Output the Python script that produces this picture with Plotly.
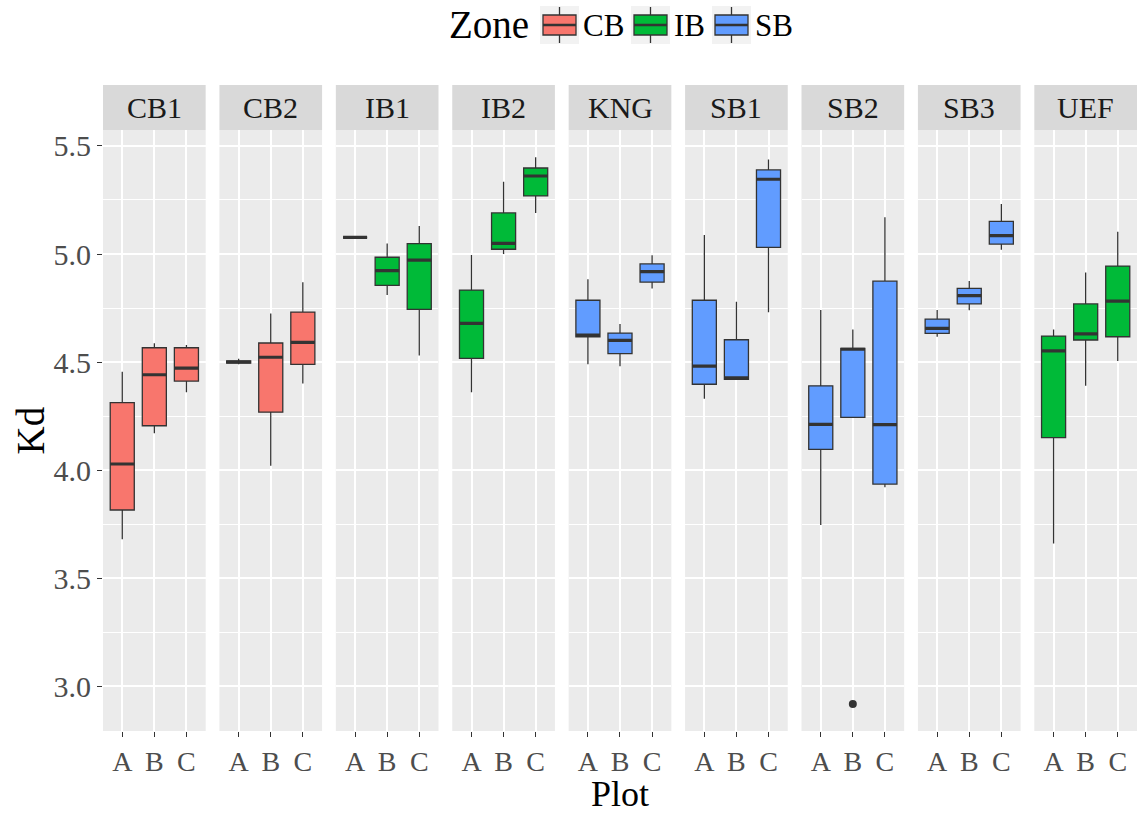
import plotly.graph_objects as go
from plotly.subplots import make_subplots

# Facets (sites), their zone, and the plots within each site
sites = ["CB1", "CB2", "IB1", "IB2", "KNG", "SB1", "SB2", "SB3", "UEF"]
site_zone = ["CB", "CB", "IB", "IB", "SB", "SB", "SB", "SB", "IB"]
plots = ["A", "B", "C"]
zones = ["CB", "IB", "SB"]

# Box statistics of Kd per site, ordered A, B, C
kd_low = {
    "CB1": [3.68, 4.17, 4.36], "CB2": [4.49, 4.02, 4.40], "IB1": [5.077, 4.81, 4.53],
    "IB2": [4.36, 5.00, 5.19], "KNG": [4.49, 4.48, 4.84], "SB1": [4.33, 4.42, 4.73],
    "SB2": [3.745, 4.244, 3.92], "SB3": [4.617, 4.74, 5.02], "UEF": [3.66, 4.39, 4.505],
}
kd_q1 = {
    "CB1": [3.815, 4.205, 4.412], "CB2": [4.495, 4.268, 4.489], "IB1": [5.077, 4.855, 4.744],
    "IB2": [4.517, 5.022, 5.269], "KNG": [4.617, 4.539, 4.870], "SB1": [4.397, 4.420, 5.031],
    "SB2": [4.096, 4.244, 3.935], "SB3": [4.633, 4.769, 5.046], "UEF": [4.150, 4.602, 4.617],
}
kd_median = {
    "CB1": [4.028, 4.441, 4.472], "CB2": [4.500, 4.522, 4.591], "IB1": [5.077, 4.923, 4.972],
    "IB2": [4.679, 5.049, 5.361], "KNG": [4.625, 4.600, 4.918], "SB1": [4.481, 4.427, 5.346],
    "SB2": [4.211, 4.559, 4.210], "SB3": [4.656, 4.807, 5.085], "UEF": [4.552, 4.630, 4.782],
}
kd_q3 = {
    "CB1": [4.312, 4.566, 4.566], "CB2": [4.505, 4.588, 4.731], "IB1": [5.077, 4.985, 5.048],
    "IB2": [4.833, 5.190, 5.398], "KNG": [4.786, 4.634, 4.954], "SB1": [4.786, 4.603, 5.389],
    "SB2": [4.390, 4.563, 4.874], "SB3": [4.699, 4.841, 5.151], "UEF": [4.620, 4.769, 4.944],
}
kd_high = {
    "CB1": [4.455, 4.587, 4.579], "CB2": [4.515, 4.725, 4.869], "IB1": [5.077, 5.049, 5.130],
    "IB2": [4.995, 5.335, 5.448], "KNG": [4.883, 4.676, 4.994], "SB1": [5.088, 4.779, 5.438],
    "SB2": [4.741, 4.651, 5.170], "SB3": [4.741, 4.875, 5.231], "UEF": [4.651, 4.914, 5.103],
}
# Outlying observations: (site, plot, value)
outliers = [("SB2", "B", 2.917)]

y_ticks = [3.0, 3.5, 4.0, 4.5, 5.0, 5.5]

zone_colors = {"CB": "#F8766D", "IB": "#00BA38", "SB": "#619CFF"}
FONT = "Liberation Serif"
EDGE = "#333333"
BOX_W = 0.75

# figure geometry in pixels
W, H = 1137, 815
ML, MR, MT, MB = 103, 0, 130, 84
PW, PH = W - ML - MR, H - MT - MB


def px_x(px):
    return (px - ML) / PW


def px_y(py):
    return (H - MB - py) / PH


n = len(sites)
fig = make_subplots(rows=1, cols=n, shared_yaxes=True, horizontal_spacing=0.0133)

pos = list(range(1, len(plots) + 1))
for i, site in enumerate(sites):
    col = i + 1
    zone = site_zone[i]
    fig.add_trace(
        go.Box(
            x=pos,
            q1=kd_q1[site], median=kd_median[site], q3=kd_q3[site],
            lowerfence=kd_low[site], upperfence=kd_high[site],
            width=BOX_W, whiskerwidth=0,
            fillcolor=zone_colors[zone],
            line=dict(color=EDGE, width=1.3),
            marker=dict(color=EDGE),
            name=zone, showlegend=False,
            boxpoints=False, hoverinfo="skip",
        ),
        row=1, col=col,
    )
    # thicker median bars, as in ggplot boxplots
    mx, my = [], []
    for p, m in zip(pos, kd_median[site]):
        mx += [p - BOX_W / 2, p + BOX_W / 2, None]
        my += [m, m, None]
    fig.add_trace(
        go.Scatter(x=mx, y=my, mode="lines", line=dict(color=EDGE, width=3.2),
                   showlegend=False, hoverinfo="skip"),
        row=1, col=col,
    )
    # outliers
    ox = [pos[plots.index(p)] for s, p, v in outliers if s == site]
    oy = [v for s, p, v in outliers if s == site]
    if ox:
        fig.add_trace(
            go.Scatter(x=ox, y=oy, mode="markers", marker=dict(color=EDGE, size=8),
                       showlegend=False, hoverinfo="skip"),
            row=1, col=col,
        )

    # facet strip
    xd = "x domain" if col == 1 else f"x{col} domain"
    yd = "y domain" if col == 1 else f"y{col} domain"
    strip_h = 45 / PH
    fig.add_shape(type="rect", xref=xd, yref=yd, x0=0, x1=1, y0=1, y1=1 + strip_h,
                  fillcolor="#D9D9D9", line=dict(width=0), layer="below")
    fig.add_annotation(xref=xd, yref=yd, x=0.5, y=1 + strip_h / 2, text=site,
                       showarrow=False, font=dict(family=FONT, size=30, color="#1A1A1A"),
                       xanchor="center", yanchor="middle")

fig.update_xaxes(
    range=[0.4, 3.6], tickmode="array", tickvals=pos, ticktext=plots,
    showgrid=True, gridcolor="white", gridwidth=2, zeroline=False,
    ticks="outside", ticklen=5, tickwidth=1.3, tickcolor=EDGE,
    tickfont=dict(family=FONT, size=28, color="#4D4D4D"), showline=False,
)
fig.update_yaxes(
    range=[2.792, 5.574], tickmode="array", tickvals=y_ticks,
    ticktext=[f"{v:.1f}" for v in y_ticks],
    showgrid=True, gridcolor="white", gridwidth=2, zeroline=False,
    minor=dict(tickmode="array", tickvals=[2.75, 3.25, 3.75, 4.25, 4.75, 5.25],
               showgrid=True, gridcolor="white", gridwidth=1, ticks=""),
    tickfont=dict(family=FONT, size=30, color="#4D4D4D"), showline=False,
)
fig.update_yaxes(ticks="outside", ticklen=5, tickwidth=1.3, tickcolor=EDGE, row=1, col=1)

# axis titles
fig.add_annotation(xref="paper", yref="paper", x=0.5, y=px_y(794), text="Plot",
                   showarrow=False, font=dict(family=FONT, size=36, color="black"),
                   xanchor="center", yanchor="middle")
fig.add_annotation(xref="paper", yref="paper", x=px_x(30), y=0.5, text="Kd",
                   textangle=-90, showarrow=False,
                   font=dict(family=FONT, size=39, color="black"),
                   xanchor="center", yanchor="middle")

# legend: title, then a boxplot key and a label per zone
LEG_Y = 25
fig.add_annotation(xref="paper", yref="paper", x=px_x(447), y=px_y(LEG_Y), text="Zone",
                   showarrow=False, font=dict(family=FONT, size=39, color="black"),
                   xanchor="left", yanchor="middle")
key_left = [543, 634, 715]
for zone, kx in zip(zones, key_left):
    kw = 33
    cx = kx + kw / 2
    fig.add_shape(type="rect", xref="paper", yref="paper",
                  x0=px_x(kx - 3), x1=px_x(kx + kw + 3), y0=px_y(LEG_Y + 19), y1=px_y(LEG_Y - 19),
                  fillcolor="#F2F2F2", line=dict(width=0))
    fig.add_shape(type="line", xref="paper", yref="paper",
                  x0=px_x(cx), x1=px_x(cx), y0=px_y(LEG_Y + 18), y1=px_y(LEG_Y - 18),
                  line=dict(color=EDGE, width=1.3))
    fig.add_shape(type="rect", xref="paper", yref="paper",
                  x0=px_x(kx), x1=px_x(kx + kw), y0=px_y(LEG_Y + 10), y1=px_y(LEG_Y - 10),
                  fillcolor=zone_colors[zone], line=dict(color=EDGE, width=1.3))
    fig.add_shape(type="line", xref="paper", yref="paper",
                  x0=px_x(kx), x1=px_x(kx + kw), y0=px_y(LEG_Y), y1=px_y(LEG_Y),
                  line=dict(color=EDGE, width=2.6))
    fig.add_annotation(xref="paper", yref="paper", x=px_x(kx + kw + 5), y=px_y(LEG_Y + 1),
                       text=zone, showarrow=False,
                       font=dict(family=FONT, size=31, color="black"),
                       xanchor="left", yanchor="middle")

fig.update_layout(
    width=W, height=H,
    margin=dict(l=ML, r=MR, t=MT, b=MB),
    paper_bgcolor="white", plot_bgcolor="#EBEBEB",
    font=dict(family=FONT),
    showlegend=False,
)

fig.write_html("out.html")
